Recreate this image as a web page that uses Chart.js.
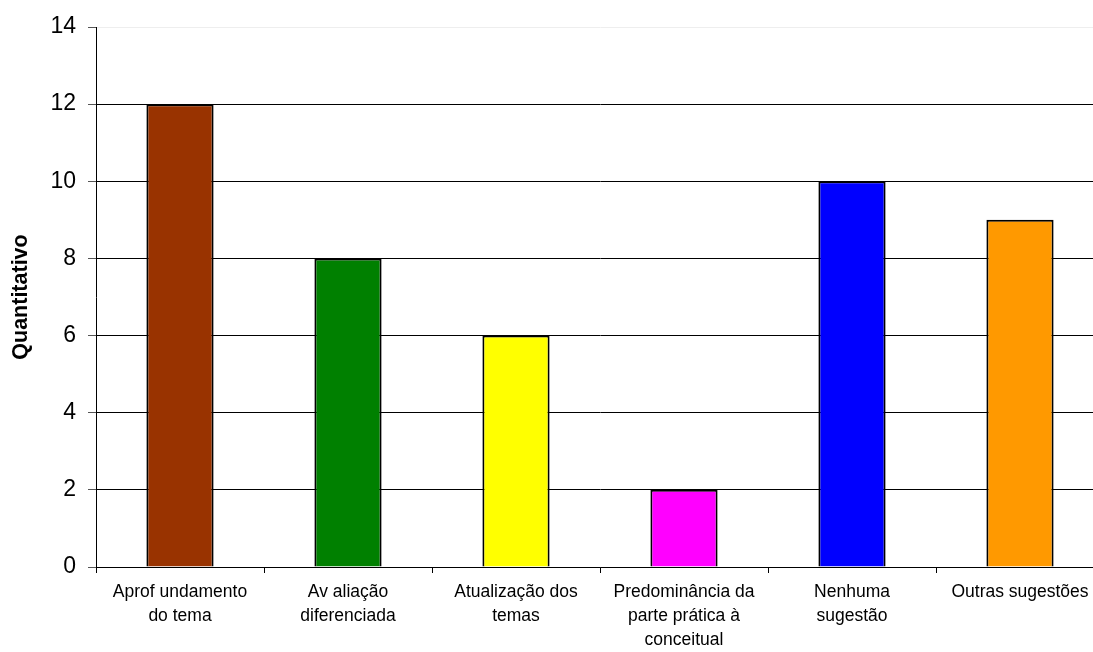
<!DOCTYPE html>
<html lang="pt-BR">
<head>
    <meta charset="UTF-8">
    <title>Sugestões</title>
    <script src="https://cdn.jsdelivr.net/npm/chart.js"></script>
    <style>
        html, body { margin: 0; padding: 0; background: #fff; overflow: hidden; }
        .container-grafico { position: relative; width: 1105px; height: 652px; }
    </style>
</head>
<body>
    <div class="container-grafico">
        <canvas id="grafico"></canvas>
    </div>

    <script>
        // dados
        const categorias = [
            ['Aprof undamento', 'do tema'],
            ['Av aliação', 'diferenciada'],
            ['Atualização dos', 'temas'],
            ['Predominância da', 'parte prática à', 'conceitual'],
            ['Nenhuma', 'sugestão'],
            ['Outras sugestões']
        ];
        const quantitativo = [12, 8, 6, 2, 10, 9];
        const cores = ['#993300', '#008000', '#FFFF00', '#FF00FF', '#0000FF', '#FF9900'];
        const eixoY = { min: 0, max: 14, passo: 2 };

        const fonte = "'Liberation Sans', Arial, sans-serif";

        let ctx = document.getElementById("grafico").getContext("2d");
        let grafico = new Chart(ctx, {
            type: 'bar',
            data: {
                labels: categorias,
                datasets: [{
                    data: quantitativo,
                    backgroundColor: cores,
                    borderColor: '#000',
                    borderWidth: 2,
                    barPercentage: 0.4,
                    categoryPercentage: 1
                }]
            },
            options: {
                responsive: true,
                maintainAspectRatio: false,
                animation: false,
                layout: { padding: { top: 27, right: 1, left: 0, bottom: 0 } },
                plugins: {
                    legend: { display: false },
                    tooltip: { enabled: false }
                },
                scales: {
                    x: {
                        afterFit: (scale) => { scale.height = 85; },
                        grid: {
                            drawOnChartArea: false,
                            drawTicks: true,
                            tickLength: 6,
                            color: '#000'
                        },
                        border: { color: '#000', width: 1 },
                        ticks: {
                            color: '#000',
                            autoSkip: false,
                            maxRotation: 0,
                            padding: 7,
                            font: { family: fonte, size: 17.5, lineHeight: 1.38 }
                        }
                    },
                    y: {
                        min: eixoY.min,
                        max: eixoY.max,
                        afterFit: (scale) => { scale.width = 96; },
                        grid: {
                            color: (c) => c.tick && c.tick.value === eixoY.max ? '#eeeeee' : '#000',
                            tickColor: '#555',
                            tickLength: 8
                        },
                        border: { color: '#000', width: 1 },
                        ticks: {
                            stepSize: eixoY.passo,
                            color: '#000',
                            padding: 12,
                            font: { family: fonte, size: 23 }
                        },
                        title: {
                            display: true,
                            text: 'Quantitativo',
                            color: '#000',
                            padding: { top: 8, bottom: 0 },
                            font: { family: fonte, size: 21.5, weight: 'bold' }
                        }
                    }
                }
            }
        });
    </script>
</body>
</html>
